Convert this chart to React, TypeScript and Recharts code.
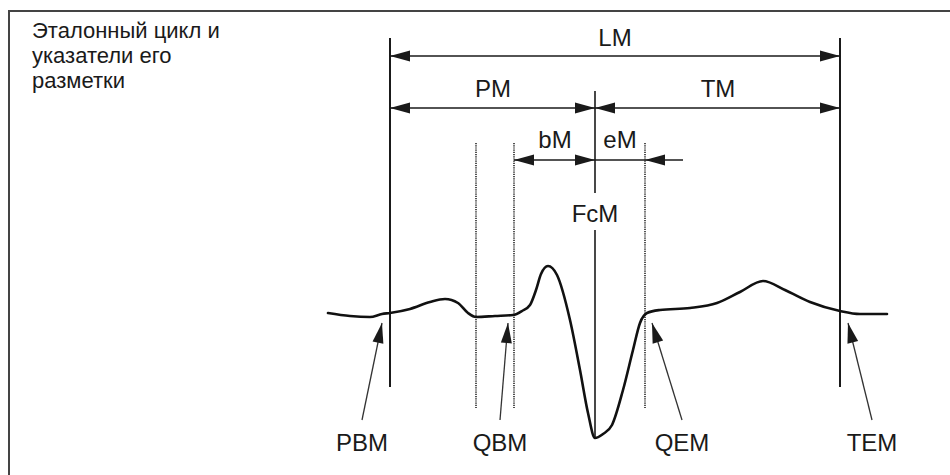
import React from 'react';
import { LineChart, Line, XAxis, YAxis, ReferenceLine, ReferenceDot } from 'recharts';

// Reference cycle: time (ms from PBM) and amplitude (µV)
const ecgTime = [-124, -80, -40, -16, 0, 40, 80, 110, 136, 156, 172, 210, 246, 264, 280, 292, 302, 316, 334, 360, 380, 396, 410, 426, 444, 466, 486, 500, 514, 540, 600, 654, 700, 746, 790, 840, 900, 940, 994];
const ecgAmp = [20, -10, -20, 10, 20, 60, 130, 160, 120, 20, -20, -10, 0, 40, 100, 250, 410, 490, 400, -50, -550, -980, -1230, -1190, -1100, -750, -350, -80, 20, 50, 70, 120, 230, 340, 250, 130, 40, 10, 10];

// Markup pointers (ms)
const boundaryTimes = [0, 900]; // PBM, TEM
const fiducialTime = 410; // FcM
const windowTimes = [172, 248, 510]; // QBM search window, QBM, QEM

// Interval labels
const intervalNames = ['LM', 'PM', 'TM', 'bM', 'eM'];
const pointerNames = ['PBM', 'QBM', 'QEM', 'TEM'];
const titleLines = ['Эталонный цикл и', 'указатели его', 'разметки'];

const data = ecgTime.map((t, i) => ({ t, v: ecgAmp[i] }));

// ---- layout (annotation placement, in chart units) ----
const X_DOMAIN = [-780, 1120];
const Y_DOMAIN = [-1600, 3150];
const SOLID_TOP = 2770;
const SOLID_BOTTOM = -720;
const DOT_TOP = 1720;
const DOT_BOTTOM = -930;
const FCM_SEGS = [[2240, 1220], [850, -1230]];
const ROW_LM = 2590;
const ROW_PT = 2070;
const ROW_BE = 1550;
const EM_TAIL = 586;
const LABEL_Y = { LM: 2690, PM: 2180, TM: 2180, bM: 1670, eM: 1670 };
const LABEL_X = { LM: 450, PM: 206, TM: 656, bM: 330, eM: 460 };
const FCM_LABEL_Y = 930;
const PTR_LABEL_Y = -1360;
const PTR_TAIL_Y = -1050;
const PTR_TIP_Y = -80;
const PTR_TAIL_X = [-56, 220, 584, 964];
const PTR_TIP_X = [-16, 236, 524, 916];

const FONT = '"Liberation Sans", Arial, sans-serif';
const INK = '#1a1a1a';

function head(tx: number, ty: number, fx: number, fy: number, len: number, half: number) {
  const dx = tx - fx;
  const dy = ty - fy;
  const d = Math.hypot(dx, dy) || 1;
  const ux = dx / d;
  const uy = dy / d;
  const bx = tx - ux * len;
  const by = ty - uy * len;
  const px = -uy * half;
  const py = ux * half;
  return `${tx},${ty} ${bx + px},${by + py} ${bx - px},${by - py}`;
}

// dimension line with arrow heads at given fractions; dir -1 points to start, +1 to end
const dimShape = (heads: { f: number; dir: number }[]) => (p: any) => {
  const { x1, y1, x2, y2 } = p;
  return (
    <g>
      <line x1={x1} y1={y1} x2={x2} y2={y2} stroke={INK} strokeWidth={1.6} />
      {heads.map((h, i) => {
        const tx = x1 + (x2 - x1) * h.f;
        const ty = y1 + (y2 - y1) * h.f;
        const fx = tx - h.dir * 10;
        return <polygon key={i} points={head(tx, ty, fx, ty, 20, 5.5)} fill={INK} />;
      })}
    </g>
  );
};

const pointerShape = (p: any) => {
  const { x1, y1, x2, y2 } = p;
  return (
    <g>
      <line x1={x1} y1={y1} x2={x2} y2={y2} stroke="#333" strokeWidth={1.3} />
      <polygon points={head(x2, y2, x1, y1, 20, 5.5)} fill={INK} />
    </g>
  );
};

const textShape = (label: string, size: number) => (p: any) => (
  <text x={p.cx} y={p.cy} textAnchor="middle" fontFamily={FONT} fontSize={size} fill={INK}>
    {label}
  </text>
);

export default function App() {
  return (
    <div style={{ position: 'absolute', left: 0, top: 0, width: 950, height: 475, background: '#fff' }}>
      <div
        style={{
          position: 'absolute',
          left: 8,
          top: 10,
          width: 950,
          height: 470,
          borderLeft: '2px solid #444',
          borderTop: '2px solid #444',
        }}
      />
      <div
        style={{
          position: 'absolute',
          left: 32,
          top: 18,
          fontFamily: FONT,
          fontSize: 22,
          lineHeight: '25px',
          color: INK,
        }}
      >
        {titleLines.map((l) => (
          <div key={l}>{l}</div>
        ))}
      </div>
      <div style={{ position: 'absolute', left: 0, top: 0 }}>
        <LineChart width={950} height={475} data={data} margin={{ top: 0, right: 0, bottom: 0, left: 0 }}>
          <XAxis dataKey="t" type="number" domain={X_DOMAIN} hide allowDataOverflow />
          <YAxis type="number" domain={Y_DOMAIN} hide allowDataOverflow />

          {boundaryTimes.map((t) => (
            <ReferenceLine
              key={'b' + t}
              segment={[{ x: t, y: SOLID_TOP }, { x: t, y: SOLID_BOTTOM }]}
              stroke={INK}
              strokeWidth={2}
            />
          ))}
          {windowTimes.map((t) => (
            <ReferenceLine
              key={'w' + t}
              segment={[{ x: t, y: DOT_TOP }, { x: t, y: DOT_BOTTOM }]}
              stroke="#333"
              strokeWidth={1.7}
              strokeDasharray="1.2 1"
            />
          ))}
          {FCM_SEGS.map((s, i) => (
            <ReferenceLine
              key={'f' + i}
              segment={[{ x: fiducialTime, y: s[0] }, { x: fiducialTime, y: s[1] }]}
              stroke={INK}
              strokeWidth={1.6}
            />
          ))}

          {/* LM */}
          <ReferenceLine
            segment={[{ x: boundaryTimes[0], y: ROW_LM }, { x: boundaryTimes[1], y: ROW_LM }]}
            shape={dimShape([{ f: 0, dir: -1 }, { f: 1, dir: 1 }])}
          />
          {/* PM */}
          <ReferenceLine
            segment={[{ x: boundaryTimes[0], y: ROW_PT }, { x: fiducialTime, y: ROW_PT }]}
            shape={dimShape([{ f: 0, dir: -1 }, { f: 1, dir: 1 }])}
          />
          {/* TM */}
          <ReferenceLine
            segment={[{ x: fiducialTime, y: ROW_PT }, { x: boundaryTimes[1], y: ROW_PT }]}
            shape={dimShape([{ f: 0, dir: -1 }, { f: 1, dir: 1 }])}
          />
          {/* bM */}
          <ReferenceLine
            segment={[{ x: windowTimes[1], y: ROW_BE }, { x: fiducialTime, y: ROW_BE }]}
            shape={dimShape([{ f: 0, dir: -1 }, { f: 1, dir: 1 }])}
          />
          {/* eM */}
          <ReferenceLine
            segment={[{ x: fiducialTime, y: ROW_BE }, { x: EM_TAIL, y: ROW_BE }]}
            shape={dimShape([{ f: (windowTimes[2] - fiducialTime) / (EM_TAIL - fiducialTime), dir: -1 }])}
          />

          {intervalNames.map((n) => (
            <ReferenceDot
              key={n}
              x={(LABEL_X as any)[n]}
              y={(LABEL_Y as any)[n]}
              r={0}
              shape={textShape(n, 24)}
            />
          ))}
          <ReferenceDot x={fiducialTime} y={FCM_LABEL_Y} r={0} shape={textShape('FcM', 24)} />

          {pointerNames.map((n, i) => (
            <ReferenceLine
              key={'p' + n}
              segment={[{ x: PTR_TAIL_X[i], y: PTR_TAIL_Y }, { x: PTR_TIP_X[i], y: PTR_TIP_Y }]}
              shape={pointerShape}
            />
          ))}
          {pointerNames.map((n, i) => (
            <ReferenceDot key={'l' + n} x={PTR_TAIL_X[i]} y={PTR_LABEL_Y} r={0} shape={textShape(n, 24)} />
          ))}

          <Line
            type="monotone"
            dataKey="v"
            stroke="#111"
            strokeWidth={2.6}
            strokeLinecap="round"
            strokeLinejoin="round"
            dot={false}
            activeDot={false}
            isAnimationActive={false}
          />
        </LineChart>
      </div>
    </div>
  );
}
